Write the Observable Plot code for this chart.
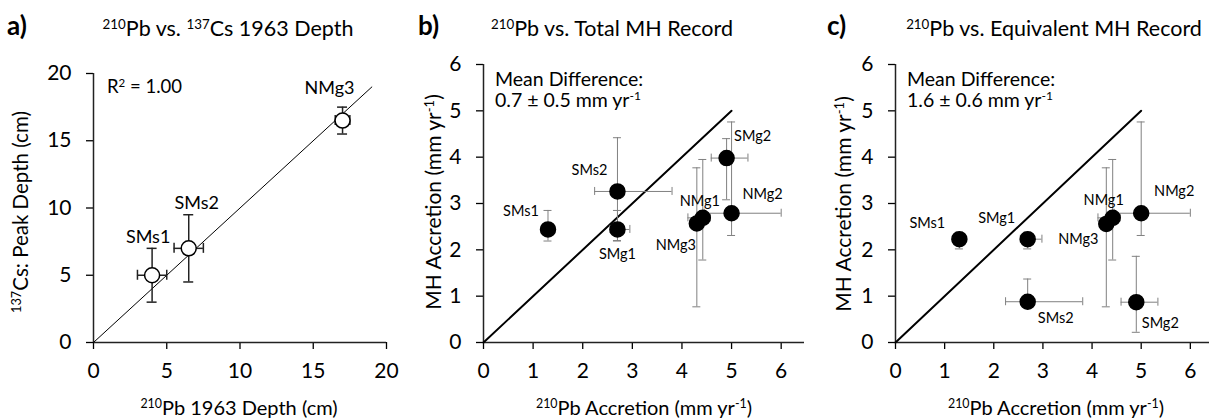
<!DOCTYPE html>
<html><head><meta charset="utf-8">
<script src="https://cdn.jsdelivr.net/npm/d3@7"></script>
<script src="https://cdn.jsdelivr.net/npm/@observablehq/plot@0.6"></script>
<style>
body{margin:0;background:#fff;font-family:Lato,"Open Sans",sans-serif;}
#wrap{position:relative;width:1215px;height:419px;overflow:hidden;background:#fff}
.panel{position:absolute;top:0;width:405px;height:419px}
.panel svg{position:absolute;left:0;top:0}
.txt{position:absolute;white-space:nowrap;color:#000;line-height:1;font-family:Lato,"Open Sans",sans-serif}
.c{transform:translate(-50%,-50%)}
.l{transform:translate(0,-50%)}
.r{transform:translate(-50%,-50%) rotate(-90deg)}
sup{font-size:0.62em;vertical-align:baseline;position:relative;top:-0.55em}
</style></head>
<body><div id="wrap"></div>
<script>
// ---------- Panel a: 210Pb vs 137Cs 1963 depth ----------
const aNames = ["SMs1", "SMs2", "NMg3"];
const aPb = [4, 6.5, 17];
const aPbLow = [3, 5.5, 16.5];
const aPbHigh = [5, 7.5, 17.5];
const aCs = [5, 7, 16.5];
const aCsLow = [3, 4.5, 15.5];
const aCsHigh = [7, 9.5, 17.5];
const aOneToOne = [0, 19];
const aTicks = [0, 5, 10, 15, 20];

// ---------- Panel b: 210Pb vs Total MH record ----------
const bNames = ["SMs1", "SMs2", "SMg1", "SMg2", "NMg1", "NMg2", "NMg3"];
const bPb = [1.3, 2.7, 2.7, 4.9, 4.42, 5.0, 4.3];
const bPbLow = [1.3, 2.24, 2.55, 4.59, 4.12, 4.45, 4.3];
const bPbHigh = [1.3, 3.8, 2.95, 5.33, 4.57, 6.0, 4.3];
const bMH = [2.44, 3.26, 2.44, 3.98, 2.69, 2.79, 2.57];
const bMHLow = [2.19, 2.2, 2.19, 3.08, 1.78, 2.31, 0.77];
const bMHHigh = [2.85, 4.42, 2.85, 4.40, 3.95, 4.76, 3.77];

// ---------- Panel c: 210Pb vs Equivalent MH record ----------
const cNames = ["SMs1", "SMs2", "SMg1", "SMg2", "NMg1", "NMg2", "NMg3"];
const cPb = [1.3, 2.69, 2.69, 4.9, 4.42, 5.0, 4.29];
const cPbLow = [1.3, 2.24, 2.54, 4.59, 4.12, 4.45, 4.29];
const cPbHigh = [1.3, 3.81, 2.98, 5.34, 4.57, 6.0, 4.29];
const cMH = [2.23, 0.88, 2.23, 0.87, 2.69, 2.79, 2.56];
const cMHLow = [2.02, 0.75, 2.02, 0.22, 1.78, 2.31, 0.77];
const cMHHigh = [2.38, 1.37, 2.38, 1.86, 3.95, 4.76, 3.77];

const bcOneToOne = [0, 5];
const bcTicks = [0, 1, 2, 3, 4, 5, 6];

// label offsets (pixels) relative to each point
const aLabelOff = [[-4, -38], [8, -45], [-13, -32]];
const bLabelOff = [[-27, -18], [-28, -21], [0, 25], [26, -22], [-3, -17], [31, -19], [-21, 22]];
const cLabelOff = [[-32, -16], [28, 17], [-31, -21], [24, 21], [-9, -18], [33, -22], [-28, 15]];

function panel(cfg) {
  const idx = cfg.names.map((_, i) => i);
  const eb = {stroke: cfg.errColor, strokeWidth: cfg.errWidth};
  const cap = cfg.cap;
  const marks = [
    Plot.axisX({ticks: cfg.xTicks, tickFormat: d => String(d), tickSize: 7, tickPadding: 14, label: null, fontSize: 21, strokeWidth: 1.3}),
    Plot.axisY({ticks: cfg.yTicks, tickFormat: d => String(d), tickSize: 7, tickPadding: 15, label: null, fontSize: 21, strokeWidth: 1.3}),
    Plot.ruleY([0], {stroke: "#222", strokeWidth: 1.5}),
    Plot.ruleX([0], {stroke: "#222", strokeWidth: 1.5}),
    Plot.line(cfg.diag, {x: d => d, y: d => d, stroke: "#000", strokeWidth: cfg.diagWidth}),
    // vertical error bars
    Plot.ruleX(idx.filter(i => cfg.yLow[i] !== cfg.yHigh[i]), {x: i => cfg.x[i], y1: i => cfg.yLow[i], y2: i => cfg.yHigh[i], ...eb}),
    Plot.ruleY(idx.filter(i => cfg.yLow[i] !== cfg.yHigh[i]), {y: i => cfg.yLow[i], x1: i => cfg.x[i], x2: i => cfg.x[i], insetLeft: -cap, insetRight: -cap, ...eb}),
    Plot.ruleY(idx.filter(i => cfg.yLow[i] !== cfg.yHigh[i]), {y: i => cfg.yHigh[i], x1: i => cfg.x[i], x2: i => cfg.x[i], insetLeft: -cap, insetRight: -cap, ...eb}),
    // horizontal error bars
    Plot.ruleY(idx.filter(i => cfg.xLow[i] !== cfg.xHigh[i]), {y: i => cfg.y[i], x1: i => cfg.xLow[i], x2: i => cfg.xHigh[i], ...eb}),
    Plot.ruleX(idx.filter(i => cfg.xLow[i] !== cfg.xHigh[i]), {x: i => cfg.xLow[i], y1: i => cfg.y[i], y2: i => cfg.y[i], insetTop: -cap, insetBottom: -cap, ...eb}),
    Plot.ruleX(idx.filter(i => cfg.xLow[i] !== cfg.xHigh[i]), {x: i => cfg.xHigh[i], y1: i => cfg.y[i], y2: i => cfg.y[i], insetTop: -cap, insetBottom: -cap, ...eb}),
    Plot.dot(idx, {x: i => cfg.x[i], y: i => cfg.y[i], r: 7.5, fill: cfg.dotFill, stroke: "#000", strokeWidth: 1.5}),
    ...idx.map(i => Plot.text([i], {x: j => cfg.x[j], y: j => cfg.y[j], text: j => cfg.names[j], dx: cfg.off[i][0], dy: cfg.off[i][1], fontSize: cfg.labelSize, fill: "#000"}))
  ];
  return Plot.plot({
    width: 405, height: 419,
    marginLeft: cfg.m[0], marginRight: cfg.m[1], marginTop: cfg.m[2], marginBottom: cfg.m[3],
    x: {domain: cfg.xDomain},
    y: {domain: cfg.yDomain},
    style: {fontFamily: "Lato, 'Open Sans', sans-serif", fontSize: "20px", color: "#000", background: "transparent", overflow: "visible"},
    marks
  });
}

const wrap = document.getElementById("wrap");
function addPanel(left, svg) {
  const d = document.createElement("div");
  d.className = "panel"; d.style.left = left + "px";
  d.appendChild(svg); wrap.appendChild(d);
}
function addText(html, x, y, cls, size, weight) {
  const d = document.createElement("div");
  d.className = "txt " + cls;
  d.style.left = x + "px"; d.style.top = y + "px";
  d.style.fontSize = size + "px";
  if (weight) d.style.fontWeight = weight;
  d.innerHTML = html; wrap.appendChild(d);
}

addPanel(0, panel({
  names: aNames, x: aPb, xLow: aPbLow, xHigh: aPbHigh, y: aCs, yLow: aCsLow, yHigh: aCsHigh,
  xDomain: [0, 20], yDomain: [0, 20], xTicks: aTicks, yTicks: aTicks,
  m: [93, 19, 73, 77], diag: aOneToOne, diagWidth: 1, errColor: "#222", errWidth: 1.5, cap: 5,
  dotFill: "#fff", labelSize: 18, off: aLabelOff
}));
addPanel(405, panel({
  names: bNames, x: bPb, xLow: bPbLow, xHigh: bPbHigh, y: bMH, yLow: bMHLow, yHigh: bMHHigh,
  xDomain: [0, 6.47], yDomain: [0, 6], xTicks: bcTicks, yTicks: bcTicks,
  m: [78, 6, 64, 77], diag: bcOneToOne, diagWidth: 2, errColor: "#808080", errWidth: 1, cap: 4,
  dotFill: "#000", labelSize: 14.5, off: bLabelOff
}));
addPanel(810, panel({
  names: cNames, x: cPb, xLow: cPbLow, xHigh: cPbHigh, y: cMH, yLow: cMHLow, yHigh: cMHHigh,
  xDomain: [0, 6.39], yDomain: [0, 6], xTicks: bcTicks, yTicks: bcTicks,
  m: [85, 6, 64, 77], diag: bcOneToOne, diagWidth: 2, errColor: "#808080", errWidth: 1, cap: 4,
  dotFill: "#000", labelSize: 14.5, off: cLabelOff
}));

// panel letters and titles
addText("a)", 7, 25, "l", 26, "bold");
addText("b)", 418, 25, "l", 26, "bold");
addText("c)", 827, 25, "l", 26, "bold");
addText("<sup>210</sup>Pb vs. <sup>137</sup>Cs 1963 Depth", 228, 29, "c", 21.5);
addText("<sup>210</sup>Pb vs. Total MH Record", 612, 29, "c", 21.5);
addText("<sup>210</sup>Pb vs. Equivalent MH Record", 1054, 29, "c", 21.5);
// axis titles
addText("<sup>210</sup>Pb 1963 Depth (cm)", 239, 407, "c", 20);
addText("<sup>210</sup>Pb Accretion (mm yr<sup>-1</sup>)", 644, 407, "c", 20);
addText("<sup>210</sup>Pb Accretion (mm yr<sup>-1</sup>)", 1056, 407, "c", 20);
addText("<sup>137</sup>Cs: Peak Depth (cm)", 20, 212, "r", 20.5);
addText("MH Accretion (mm yr<sup>-1</sup>)", 433, 202, "r", 21);
addText("MH Accretion (mm yr<sup>-1</sup>)", 843, 204, "r", 21);
// annotations
addText("R<sup>2</sup> = 1.00", 107, 86, "l", 18.5);
addText("Mean Difference:", 495, 79, "l", 19.5);
addText("0.7 ± 0.5 mm yr<sup>-1</sup>", 495, 100, "l", 19.5);
addText("Mean Difference:", 907, 79, "l", 19.5);
addText("1.6 ± 0.6 mm yr<sup>-1</sup>", 907, 100, "l", 19.5);
</script>
</body></html>
